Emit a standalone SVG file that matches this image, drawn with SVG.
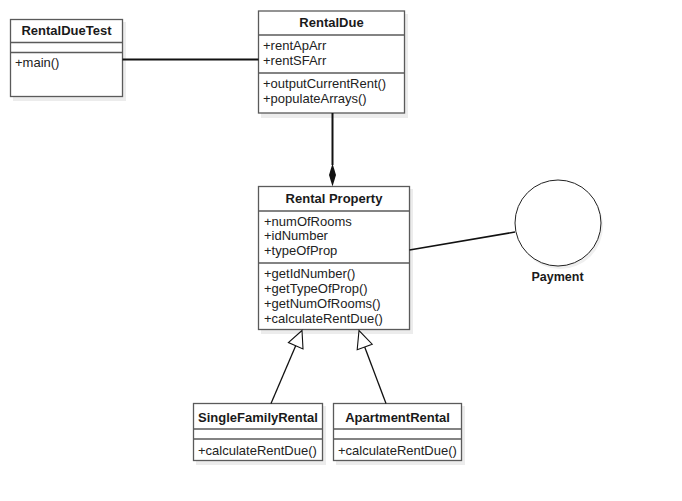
<svg xmlns="http://www.w3.org/2000/svg" width="682" height="501" viewBox="0 0 682 501">
<style>
.box{fill:#ffffff;stroke:#5a5a5a;stroke-width:1.3}
.shadow{fill:#ececec}
.sep{stroke:#5a5a5a;stroke-width:1.3}
.title{font-family:"Liberation Sans",Arial,sans-serif;font-size:13px;font-weight:bold;fill:#1a1a1a;text-anchor:middle}
.mem{font-family:"Liberation Sans",Arial,sans-serif;font-size:13px;fill:#222222}
.conn{stroke:#111111;fill:none}
</style>
<rect width="682" height="501" fill="#ffffff"/>
<g id="RentalDueTest">
<rect class="shadow" x="13" y="22" width="113" height="79"/>
<rect class="box" x="10.5" y="19.5" width="112" height="77"/>
<line class="sep" x1="10.5" y1="42.5" x2="122.5" y2="42.5"/>
<line class="sep" x1="10.5" y1="52.5" x2="122.5" y2="52.5"/>
<text class="title" x="66.5" y="35">RentalDueTest</text>
<text class="mem" x="15" y="67">+main()</text>
</g>
<g id="RentalDue">
<rect class="shadow" x="261" y="14" width="147" height="104"/>
<rect class="box" x="258.5" y="11" width="146" height="102"/>
<line class="sep" x1="258.5" y1="35" x2="404.5" y2="35"/>
<line class="sep" x1="258.5" y1="73" x2="404.5" y2="73"/>
<text class="title" x="331.5" y="27">RentalDue</text>
<text class="mem" x="263" y="50">+rentApArr</text>
<text class="mem" x="263" y="64.5">+rentSFArr</text>
<text class="mem" x="263" y="88">+outputCurrentRent()</text>
<text class="mem" x="263" y="102.5">+populateArrays()</text>
</g>
<g id="RentalProperty">
<rect class="shadow" x="261" y="189" width="152" height="145"/>
<rect class="box" x="258.5" y="186.5" width="151" height="143"/>
<line class="sep" x1="258.5" y1="211" x2="409.5" y2="211"/>
<line class="sep" x1="258.5" y1="263" x2="409.5" y2="263"/>
<text class="title" x="334" y="203">Rental Property</text>
<text class="mem" x="264" y="225.5">+numOfRooms</text>
<text class="mem" x="264" y="240">+idNumber</text>
<text class="mem" x="264" y="254.5">+typeOfProp</text>
<text class="mem" x="264" y="278">+getIdNumber()</text>
<text class="mem" x="264" y="293">+getTypeOfProp()</text>
<text class="mem" x="264" y="308">+getNumOfRooms()</text>
<text class="mem" x="264" y="322.5">+calculateRentDue()</text>
</g>
<g id="Payment">
<circle cx="560" cy="226" r="43" fill="#efefef"/>
<circle cx="558" cy="223" r="43" fill="#ffffff" stroke="#222222" stroke-width="1"/>
<text class="title" x="557.5" y="281" style="font-size:12.5px">Payment</text>
</g>
<g id="SingleFamilyRental">
<rect class="shadow" x="196" y="406" width="130" height="59"/>
<rect class="box" x="193.5" y="403.5" width="129" height="57"/>
<line class="sep" x1="193.5" y1="429" x2="322.5" y2="429"/>
<line class="sep" x1="193.5" y1="439" x2="322.5" y2="439"/>
<text class="title" x="258" y="422">SingleFamilyRental</text>
<text class="mem" x="198" y="454.5">+calculateRentDue()</text>
</g>
<g id="ApartmentRental">
<rect class="shadow" x="336" y="406" width="129" height="59"/>
<rect class="box" x="333.5" y="403.5" width="128" height="57"/>
<line class="sep" x1="333.5" y1="429" x2="461.5" y2="429"/>
<line class="sep" x1="333.5" y1="439" x2="461.5" y2="439"/>
<text class="title" x="397.5" y="422">ApartmentRental</text>
<text class="mem" x="338" y="454.5">+calculateRentDue()</text>
</g>
<g id="connectors">
<line class="conn" x1="122.5" y1="59.5" x2="258.5" y2="59.5" stroke-width="2"/>
<line class="conn" x1="332.5" y1="113" x2="332.5" y2="165" stroke-width="2"/>
<path d="M332.5,163.5 L336,175 L332.5,186.5 L329,175 Z" fill="#111111"/>
<line class="conn" x1="409.5" y1="250" x2="515" y2="232" stroke-width="1.6"/>
<line class="conn" x1="271" y1="403.5" x2="295.7" y2="345.7" stroke-width="1.3"/>
<polygon points="302,330.5 288.4,342.5 303,348.9" fill="#ffffff" stroke="#111111" stroke-width="1.1"/>
<line class="conn" x1="386" y1="403.5" x2="364.7" y2="347" stroke-width="1.3"/>
<polygon points="359,330.5 357.2,349.8 372.2,344.2" fill="#ffffff" stroke="#111111" stroke-width="1.1"/>
</g>
</svg>
